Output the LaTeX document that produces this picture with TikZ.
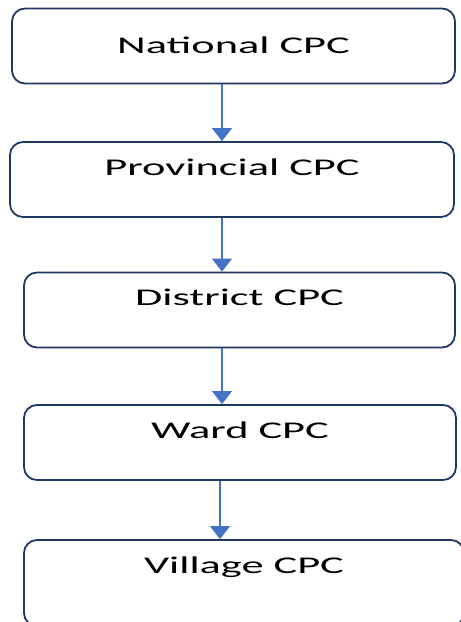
\documentclass[tikz,border=0pt]{standalone}
\usepackage{fontspec}
\setmainfont{Carlito}
\usetikzlibrary{arrows.meta, positioning}
\definecolor{boxline}{HTML}{203864}
\definecolor{flowblue}{HTML}{4472C4}
\newcommand{\tiertext}[1]{\scalebox{1.85}[1]{#1}}

\begin{document}
\begin{tikzpicture}[x=1pt, y=-1pt,
            tier/.style={draw=boxline, line width=1.8pt, rounded corners=13pt,
                minimum height=75pt, inner sep=0pt, text=black,
                font=\fontsize{24}{28}\selectfont, text height=16pt, text depth=25pt},
            flow/.style={draw=flowblue, line width=1.2pt,
                -{Triangle[width=20pt, length=13pt]}}]
            \useasboundingbox (0,0) rectangle (461,622);
            \clip (0,0) rectangle (461,622);
            \node[tier, minimum width=443pt, text depth=0.5pt] (nat) at (233.5,46) {\tiertext{National CPC}};
            \node[tier, minimum width=444pt] (prov) at (232,179.5) {\tiertext{Provincial CPC}};
            \node[tier, minimum width=431pt] (dist) at (239.5,310) {\tiertext{District CPC}};
            \node[tier, minimum width=432pt] (ward) at (240,442.5) {\tiertext{Ward CPC}};
            \node[tier, minimum width=440pt, minimum height=86pt, text depth=35pt] (vill) at (244,583) {\tiertext{Village CPC}};
            \coordinate (ax) at (222,0);
            \coordinate (bx) at (220,0);
            \draw[flow] (nat.south -| ax) -- (prov.north -| ax);
            \draw[flow] (prov.south -| ax) -- (dist.north -| ax);
            \draw[flow] (dist.south -| ax) -- (ward.north -| ax);
            \draw[flow] (ward.south -| bx) -- (vill.north -| bx);
        \end{tikzpicture}
\end{document}
